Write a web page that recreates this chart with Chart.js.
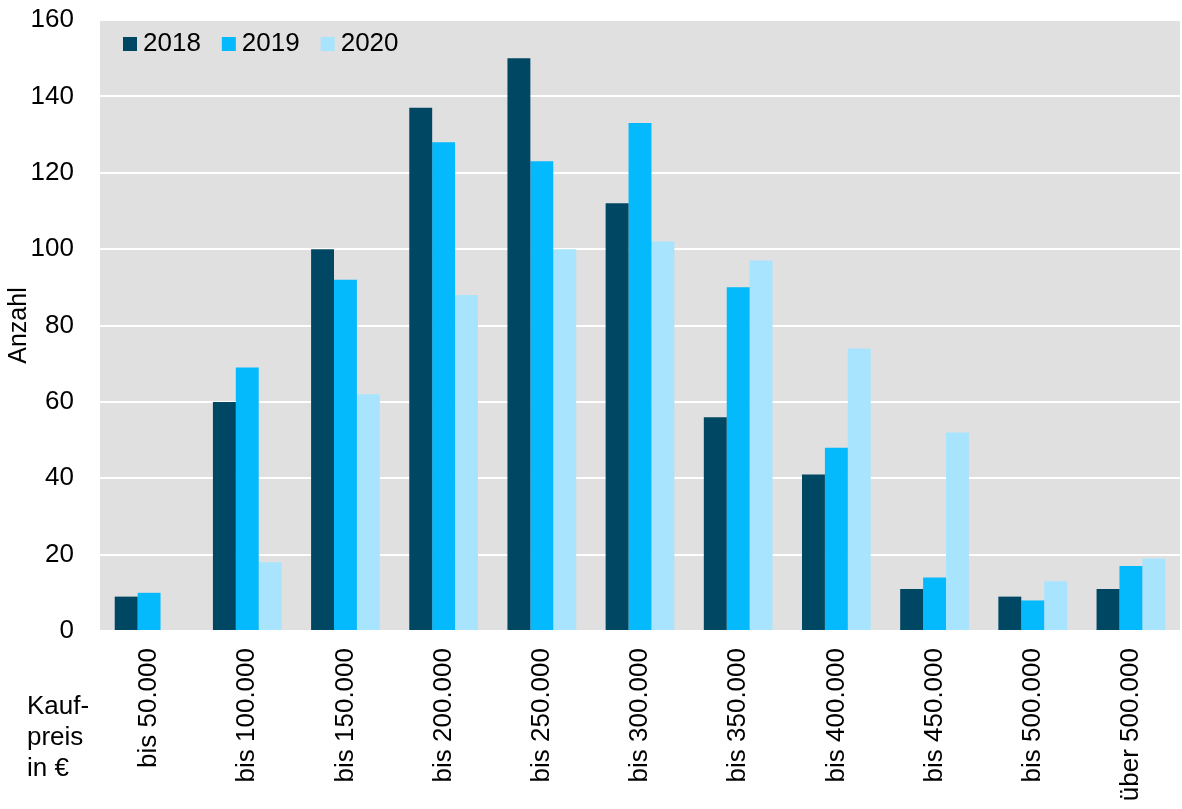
<!DOCTYPE html>
<html>
<head>
<meta charset="utf-8">
<script src="https://cdn.jsdelivr.net/npm/chart.js@4.4.1/dist/chart.umd.min.js"></script>
<style>
  html, body { margin: 0; padding: 0; background: #fff; }
  #wrap { width: 1182px; height: 809px; }
</style>
</head>
<body>
<div id="wrap"><canvas id="kaufChart"></canvas></div>
<script>
// Kaufpreisklassen und Anzahl der Kauffälle je Jahr
const categories = ['bis 50.000', 'bis 100.000', 'bis 150.000', 'bis 200.000', 'bis 250.000',
  'bis 300.000', 'bis 350.000', 'bis 400.000', 'bis 450.000', 'bis 500.000', 'über 500.000'];
const years = ['2018', '2019', '2020'];
const values2018 = [9, 60, 100, 137, 150, 112, 56, 41, 11, 9, 11];
const values2019 = [10, 69, 92, 128, 123, 133, 90, 48, 14, 8, 17];
const values2020 = [0, 18, 62, 88, 100, 102, 97, 74, 52, 13, 19];
const yMin = 0, yMax = 160, yStep = 20;
const axisNote = ['Kauf-', 'preis', 'in €'];

const colors = ['#004763', '#05b9fd', '#a8e4fd'];
const FONT = 'Arial, "Liberation Sans", sans-serif';

// grey plot background
const plotBackground = {
  id: 'plotBackground',
  beforeDraw(chart) {
    const { ctx, chartArea: a } = chart;
    ctx.save();
    ctx.fillStyle = '#e0e0e0';
    ctx.fillRect(a.left, a.top, a.right - a.left, a.bottom - a.top);
    ctx.restore();
  }
};

// horizontal legend inside the plot, top left
const innerLegend = {
  id: 'innerLegend',
  afterDatasetsDraw(chart) {
    const { ctx, chartArea: a } = chart;
    ctx.save();
    ctx.font = '26px ' + FONT;
    ctx.textBaseline = 'middle';
    ctx.textAlign = 'left';
    let x = a.left + 23;
    const y = a.top + 24;
    chart.data.datasets.forEach(ds => {
      ctx.fillStyle = ds.backgroundColor;
      ctx.fillRect(x, y - 7, 14, 14);
      ctx.fillStyle = '#000';
      ctx.fillText(ds.label, x + 20, y);
      x += 20 + ctx.measureText(ds.label).width + 21;
    });
    ctx.restore();
  }
};

// "Kaufpreis in €" label left of the category axis
const noteLabel = {
  id: 'noteLabel',
  afterDraw(chart) {
    const { ctx } = chart;
    ctx.save();
    ctx.fillStyle = '#000';
    ctx.font = '26px ' + FONT;
    ctx.textAlign = 'left';
    ctx.textBaseline = 'alphabetic';
    axisNote.forEach((t, i) => ctx.fillText(t, 27, 714 + i * 31));
    ctx.restore();
  }
};

new Chart(document.getElementById('kaufChart'), {
  type: 'bar',
  data: {
    labels: categories,
    datasets: [values2018, values2019, values2020].map((d, i) => ({
      label: years[i],
      data: d,
      backgroundColor: colors[i],
      borderWidth: 0,
      categoryPercentage: 0.7,
      barPercentage: 1
    }))
  },
  options: {
    responsive: true,
    maintainAspectRatio: false,
    animation: false,
    layout: { padding: { top: 0, right: 2, left: 0, bottom: 0 } },
    plugins: {
      legend: { display: false },
      tooltip: { enabled: false }
    },
    scales: {
      x: {
        grid: { display: false, drawTicks: false },
        border: { display: false },
        ticks: {
          autoSkip: false,
          minRotation: 90,
          maxRotation: 90,
          padding: 17,
          color: '#000',
          font: { family: FONT, size: 26 }
        },
        afterFit(scale) { scale.height = 178; }
      },
      y: {
        min: yMin,
        max: yMax,
        grid: { color: '#ffffff', lineWidth: 2, drawTicks: false },
        border: { display: false },
        ticks: {
          stepSize: yStep,
          padding: 26,
          color: '#000',
          font: { family: FONT, size: 26 }
        },
        title: {
          display: true,
          text: 'Anzahl',
          color: '#000',
          padding: 4,
          font: { family: FONT, size: 25 }
        },
        afterFit(scale) {
          scale.width = 100;
          scale.paddingTop = 20;
          scale.paddingBottom = 0;
        }
      }
    }
  },
  plugins: [plotBackground, innerLegend, noteLabel]
});
</script>
</body>
</html>
